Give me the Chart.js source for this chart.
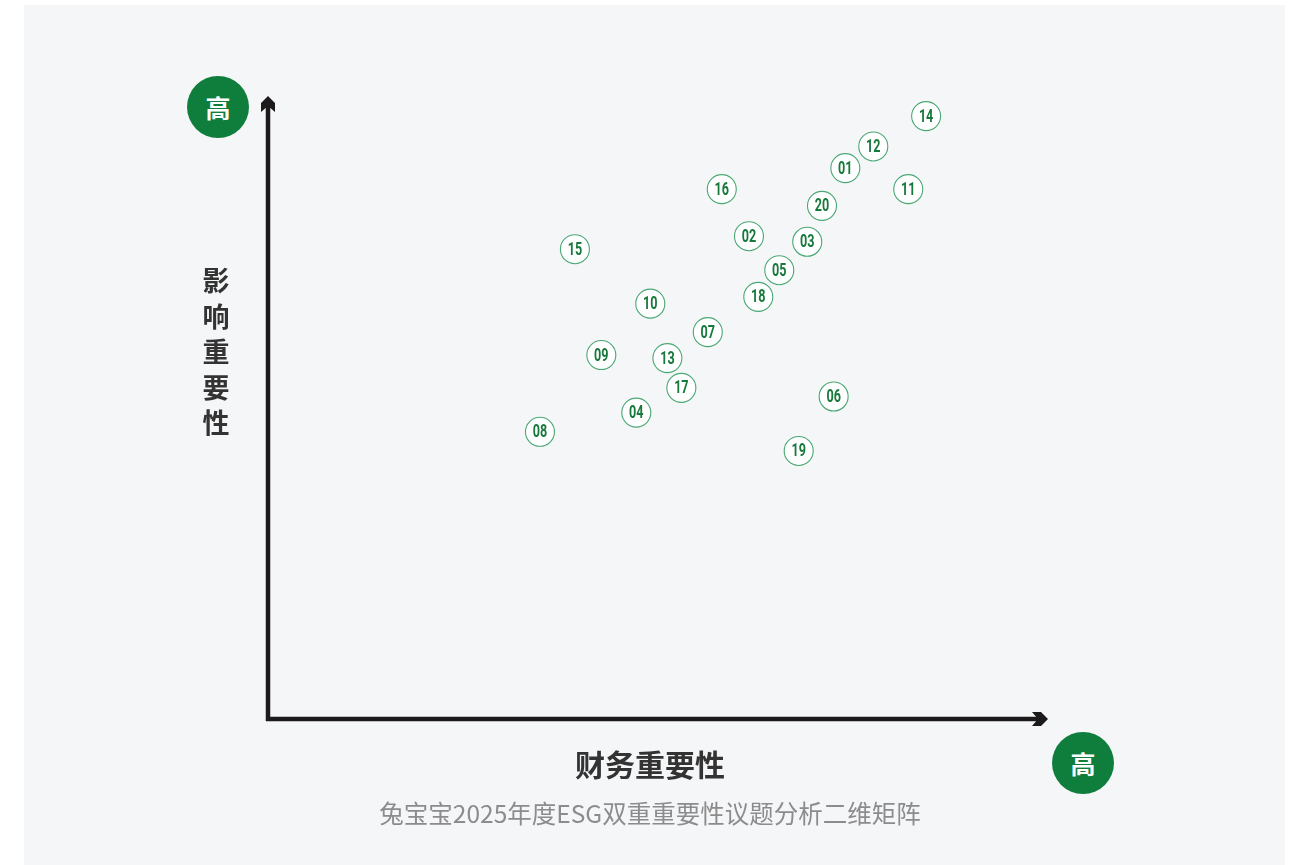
<!DOCTYPE html>
<html lang="zh-CN">
<head>
<meta charset="utf-8">
<title>兔宝宝2025年度ESG双重重要性议题分析二维矩阵</title>
<script src="https://cdn.jsdelivr.net/npm/chart.js@4.4.1/dist/chart.umd.min.js"></script>
<style>
  html, body { margin: 0; padding: 0; background: #fff; }
  body { width: 1293px; height: 865px; position: relative; overflow: hidden;
         font-family: "Noto Sans CJK SC", "Noto Sans", sans-serif; }
  .panel { position: absolute; left: 24px; top: 5px; width: 1261px; height: 870px; background: #f5f6f8; }
  #wrap { position: absolute; left: 0; top: 0; width: 1293px; height: 865px; }
  .badge { position: absolute; width: 62px; height: 62px; border-radius: 50%; background: #0f7d3c;
           color: #fff; font-size: 25px; font-weight: 700; line-height: 62px; text-align: center; }
  .ytitle { position: absolute; left: 198px; top: 262px; width: 36px; font-size: 27px; font-weight: 700;
            line-height: 35.5px; color: #333; text-align: center; }
  .xtitle { position: absolute; left: 450px; width: 400px; top: 741px; text-align: center;
            font-size: 30px; font-weight: 700; color: #333; }
  .sub { position: absolute; left: 250px; width: 800px; top: 795px; text-align: center;
         font-size: 24.5px; font-weight: 400; color: #8c8c8c; }
</style>
</head>
<body>
<div class="panel"></div>
<div id="wrap"><canvas id="matrix"></canvas></div>
<div class="badge" style="left:187px;top:76px;">高</div>
<div class="badge" style="left:1052px;top:732px;">高</div>
<div class="ytitle">影<br>响<br>重<br>要<br>性</div>
<div class="xtitle">财务重要性</div>
<div class="sub">兔宝宝2025年度ESG双重重要性议题分析二维矩阵</div>
<script>
// ─── Data: issue numbers, financial materiality (x), impact materiality (y) ───
const issueIds = ['01','02','03','04','05','06','07','08','09','10',
                  '11','12','13','14','15','16','17','18','19','20'];
const financialScore = [74.3, 61.9, 69.4, 47.4, 65.8, 72.8, 56.6, 35.0, 42.9, 49.2,
                        82.4, 77.9, 51.4, 84.7, 39.5, 58.4, 53.2, 63.1, 68.3, 71.3];
const impactScore    = [89.0, 78.0, 77.1, 49.5, 72.5, 52.1, 62.5, 46.4, 58.8, 67.1,
                        85.6, 92.5, 58.3, 97.4, 75.9, 85.6, 53.5, 68.2, 43.3, 82.9];

const points = issueIds.map((id, i) => ({ x: financialScore[i], y: impactScore[i], id }));

// ─── Axis lines with chevron arrowheads ───
const axisArrows = {
    id: 'axisArrows',
    beforeDatasetsDraw(chart) {
        const { ctx, scales: { x, y } } = chart;
        const x0 = x.getPixelForValue(0), y0 = y.getPixelForValue(0);
        const xEnd = x.getPixelForValue(100), yEnd = y.getPixelForValue(100);
        ctx.save();
        ctx.strokeStyle = '#1c1a1a';
        ctx.fillStyle = '#1c1a1a';
        ctx.lineWidth = 4.5;
        ctx.beginPath();
        ctx.moveTo(x0, y0 + 2);
        ctx.lineTo(x0, yEnd + 6);
        ctx.moveTo(x0 - 2, y0);
        ctx.lineTo(xEnd - 6, y0);
        ctx.stroke();
        // up arrow
        ctx.beginPath();
        ctx.moveTo(x0, yEnd - 4);
        ctx.lineTo(x0 + 7, yEnd + 3);
        ctx.lineTo(x0 + 7, yEnd + 12);
        ctx.lineTo(x0, yEnd + 6);
        ctx.lineTo(x0 - 7, yEnd + 12);
        ctx.lineTo(x0 - 7, yEnd + 3);
        ctx.closePath();
        ctx.fill();
        // right arrow
        ctx.beginPath();
        ctx.moveTo(xEnd + 3, y0);
        ctx.lineTo(xEnd - 4, y0 - 7);
        ctx.lineTo(xEnd - 13, y0 - 7);
        ctx.lineTo(xEnd - 7, y0);
        ctx.lineTo(xEnd - 13, y0 + 7);
        ctx.lineTo(xEnd - 4, y0 + 7);
        ctx.closePath();
        ctx.fill();
        ctx.restore();
    }
};

// ─── Issue numbers inside the circles (narrow, tall digits) ───
const issueLabels = {
    id: 'issueLabels',
    afterDatasetsDraw(chart) {
        const { ctx } = chart;
        const meta = chart.getDatasetMeta(0);
        ctx.save();
        ctx.fillStyle = '#17793b';
        ctx.font = 'bold 18px Roboto, "DejaVu Sans Condensed", sans-serif';
        ctx.textAlign = 'center';
        ctx.textBaseline = 'middle';
        meta.data.forEach((pt, i) => {
            ctx.save();
            ctx.translate(pt.x, pt.y + 1);
            ctx.scale(0.7, 1);
            ctx.fillText(issueIds[i], 0, 0);
            ctx.restore();
        });
        ctx.restore();
    }
};

new Chart(document.getElementById('matrix'), {
    type: 'scatter',
    data: {
        datasets: [{
            label: '议题',
            data: points,
            pointRadius: 14.5,
            pointHoverRadius: 14.5,
            pointBackgroundColor: '#ffffff',
            pointBorderColor: '#4aa874',
            pointBorderWidth: 1.1
        }]
    },
    options: {
        responsive: true,
        maintainAspectRatio: false,
        animation: false,
        layout: { padding: { left: 268, top: 100, right: 248, bottom: 146 } },
        scales: {
            x: { type: 'linear', min: 0, max: 100, display: false },
            y: { type: 'linear', min: 0, max: 100, display: false }
        },
        plugins: { legend: { display: false }, tooltip: { enabled: false } }
    },
    plugins: [axisArrows, issueLabels]
});
</script>
</body>
</html>
